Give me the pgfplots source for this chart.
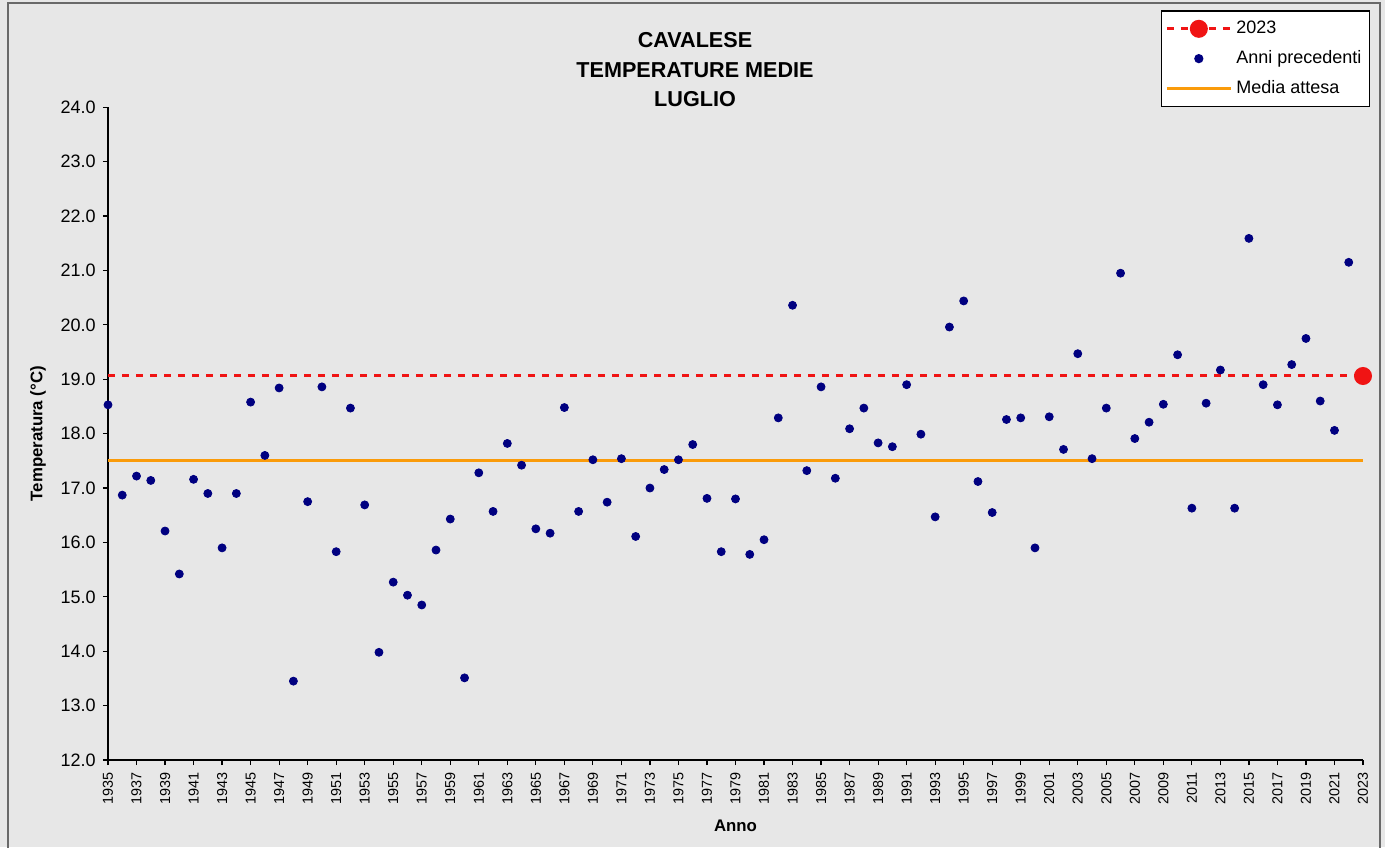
\documentclass[border=0pt]{standalone}
\usepackage{pgfplots}
\pgfplotsset{compat=1.18}
\usepackage{pgfplotstable}
\usepackage{fontspec}
\setmainfont{Liberation Sans}
\definecolor{bgc}{RGB}{231,231,231}
\definecolor{navy}{RGB}{0,0,128}
\definecolor{orng}{RGB}{250,155,10}
\definecolor{rd}{RGB}{240,20,20}
\definecolor{framec}{RGB}{105,105,105}

\pgfplotstableread{
year temp
1935 18.53
1936 16.87
1937 17.22
1938 17.14
1939 16.21
1940 15.42
1941 17.16
1942 16.90
1943 15.90
1944 16.90
1945 18.58
1946 17.60
1947 18.84
1948 13.45
1949 16.75
1950 18.86
1951 15.83
1952 18.47
1953 16.69
1954 13.98
1955 15.27
1956 15.03
1957 14.85
1958 15.86
1959 16.43
1960 13.51
1961 17.28
1962 16.57
1963 17.82
1964 17.42
1965 16.25
1966 16.17
1967 18.48
1968 16.57
1969 17.52
1970 16.74
1971 17.54
1972 16.11
1973 17.00
1974 17.34
1975 17.52
1976 17.80
1977 16.81
1978 15.83
1979 16.80
1980 15.78
1981 16.05
1982 18.29
1983 20.36
1984 17.32
1985 18.86
1986 17.18
1987 18.09
1988 18.47
1989 17.83
1990 17.76
1991 18.90
1992 17.99
1993 16.47
1994 19.96
1995 20.44
1996 17.12
1997 16.55
1998 18.26
1999 18.29
2000 15.90
2001 18.31
2002 17.71
2003 19.47
2004 17.54
2005 18.47
2006 20.95
2007 17.91
2008 18.21
2009 18.54
2010 19.45
2011 16.63
2012 18.56
2013 19.17
2014 16.63
2015 21.59
2016 18.90
2017 18.53
2018 19.27
2019 19.75
2020 18.60
2021 18.06
2022 21.15
}\annitable

\begin{document}
\begin{tikzpicture}
\useasboundingbox (0pt,0pt) rectangle (692.5pt,423.5pt);
\fill[bgc] (0pt,0pt) rectangle (692.5pt,423.5pt);
\draw[framec, line width=1.1pt] (4pt,-5pt) rectangle (690pt,422pt);
\node[align=center, font=\fontsize{10.8}{14.75}\selectfont\bfseries] at (347.5pt,388.5pt) {CAVALESE\\TEMPERATURE MEDIE\\LUGLIO};
\begin{axis}[
  at={(54pt,43.5pt)}, anchor=south west,
  scale only axis, width=627.5pt, height=326.35pt,
  xmin=1935, xmax=2023, ymin=12, ymax=24,
  axis x line*=bottom, axis y line*=left,
  axis line style={black, line width=0.6pt},
  tick align=outside, major tick length=2.6pt,
  tick style={black, line width=0.6pt},
  xtick={1935,1937,...,2023},
  ytick={12,13,...,24},
  xticklabel style={rotate=90, anchor=east, font=\fontsize{7.2}{8}\selectfont, /pgf/number format/1000 sep={}},
  yticklabel style={font=\fontsize{9}{10}\selectfont, /pgf/number format/.cd, fixed, fixed zerofill, precision=1},
  /pgf/number format/assume math mode=true,
  xlabel={Anno}, ylabel={Temperatura (°C)},
  xlabel style={font=\fontsize{8.4}{10}\selectfont\bfseries, at={(axis description cs:0.5,-0.101)}, anchor=center},
  ylabel style={font=\fontsize{8.4}{10}\selectfont\bfseries, at={(axis description cs:-0.0558,0.5)}, anchor=center},
  clip=false,
  legend cell align=left,
  legend style={at={(rel axis cs:1.0056,1.0)}, anchor=south east, draw=black, fill=white,
    font=\fontsize{9}{10}\selectfont, inner xsep=2pt, inner ysep=3pt,
    row sep=3pt, line width=0.6pt},
  legend image code/.code={\draw[mark repeat=2,mark phase=2,#1] plot coordinates {(0pt,0pt)(16pt,0pt)(32pt,0pt)};},
]
\addplot[orng, line width=1.5pt, forget plot] coordinates {(1935,17.5) (2023,17.5)};
\addplot[rd, line width=1.5pt, dash pattern=on 3.5pt off 3.5pt, forget plot] coordinates {(1935,19.06) (2023,19.06)};
\addplot[rd, line width=1.5pt, dash pattern=on 3.5pt off 3.5pt, mark=*, mark size=3.75pt, mark options={solid, fill=rd, draw=rd}] coordinates {(2023,19.06)};
\addlegendentry{2023}
\addplot[only marks, mark=*, mark size=2pt, navy, mark options={fill=navy, draw=navy}] table[x=year, y=temp] {\annitable};
\addlegendentry{Anni precedenti}
\addlegendimage{orng, line width=1.5pt}
\addlegendentry{Media attesa}
\end{axis}
\end{tikzpicture}
\end{document}
